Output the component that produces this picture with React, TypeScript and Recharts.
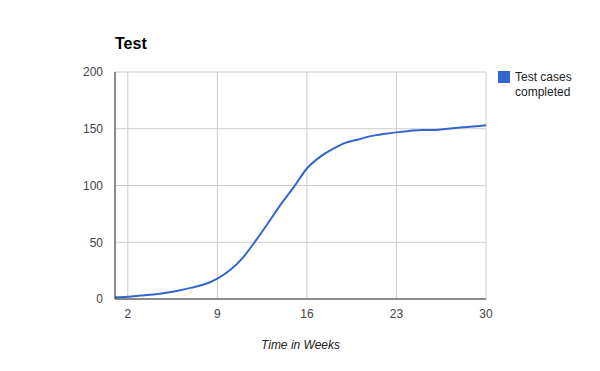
import React from "react";
import { LineChart, Line, XAxis, YAxis, CartesianGrid } from "recharts";

const weeks = [1, 2, 3, 4, 5, 6, 7, 8, 9, 10, 11, 12, 13, 14, 15, 16, 17, 18, 19, 20, 21, 22, 23, 24, 25, 26, 27, 28, 29, 30];
const completed = [1.5, 2, 3, 4, 5.5, 7.5, 10, 13, 18, 25.5, 36.5, 51.5, 67.5, 84, 99, 115, 125, 132, 137.5, 140.5, 143.5, 145.3, 146.8, 148, 149, 149, 150, 151, 152, 153];
const xTicks = [2, 9, 16, 23, 30];
const yTicks = [0, 50, 100, 150, 200];

const data = weeks.map((w, i) => ({ week: w, completed: completed[i] }));

const font = "'Liberation Sans', Arial, sans-serif";

const App: React.FC = () => {
  return (
    <div style={{ position: "absolute", left: 0, top: 0, width: 600, height: 371, background: "#fff" }}>
      <div
        style={{
          position: "absolute",
          left: 115,
          top: 36,
          fontFamily: font,
          fontSize: 16,
          lineHeight: "16px",
          fontWeight: "bold",
          color: "#000",
        }}
      >
        Test
      </div>
      {/* legend, drawn by hand so it takes no room from the plot */}
      <div
        style={{
          position: "absolute",
          left: 498,
          top: 70,
          display: "flex",
          alignItems: "flex-start",
          fontFamily: font,
          fontSize: 12,
          color: "#222",
        }}
      >
        <div style={{ width: 12, height: 12, background: "#3366CC", marginTop: 1 }} />
        <div style={{ marginLeft: 5, lineHeight: "15px" }}>
          Test cases
          <br />
          completed
        </div>
      </div>
      <LineChart width={600} height={371} data={data} margin={{ top: 72, right: 114, left: 0, bottom: 0 }}>
        <CartesianGrid stroke="#cccccc" strokeWidth={1} />
        <XAxis
          dataKey="week"
          type="number"
          domain={[1, 30]}
          ticks={xTicks}
          tickLine={false}
          tickSize={0}
          tickMargin={10}
          height={72}
          axisLine={{ stroke: "#333", strokeWidth: 1 }}
          tick={{ fill: "#444", fontSize: 12, fontFamily: font }}
          label={{
            value: "Time in Weeks",
            position: "insideBottom",
            offset: 22,
            style: { fill: "#222", fontSize: 12, fontFamily: font, fontStyle: "italic" },
          }}
        />
        <YAxis
          type="number"
          domain={[0, 200]}
          ticks={yTicks}
          width={115}
          tickLine={false}
          tickSize={0}
          tickMargin={12}
          axisLine={{ stroke: "#333", strokeWidth: 1 }}
          tick={{ fill: "#444", fontSize: 12, fontFamily: font }}
        />
        <Line
          type="monotone"
          dataKey="completed"
          stroke="#3366CC"
          strokeWidth={2}
          dot={false}
          activeDot={false}
          isAnimationActive={false}
        />
      </LineChart>
    </div>
  );
};

export default App;
